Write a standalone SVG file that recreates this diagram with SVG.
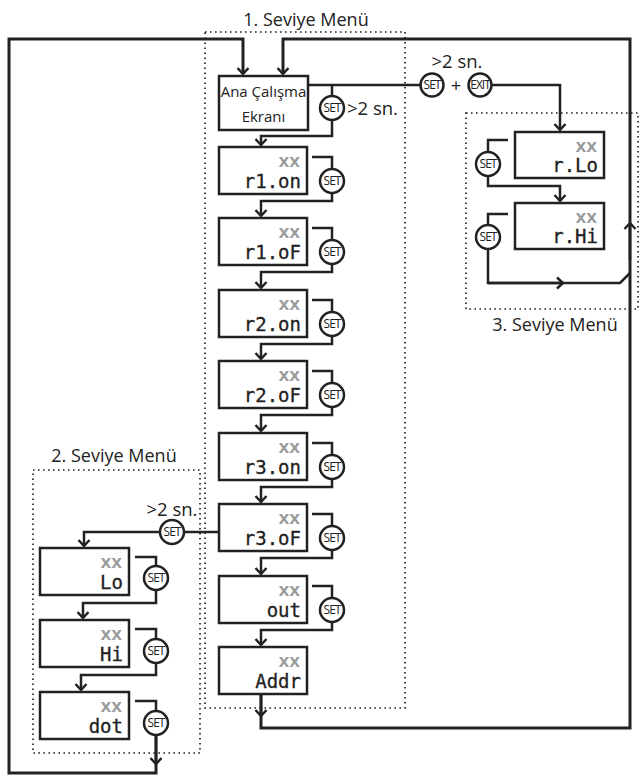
<svg xmlns="http://www.w3.org/2000/svg" width="641" height="777" viewBox="0 0 641 777">
<style>
.bg{fill:#fff}
.ln{fill:none;stroke:#222;stroke-width:2.5;stroke-linejoin:miter}
.lp{fill:none;stroke:#222;stroke-width:3}
.dot{fill:none;stroke:#222;stroke-width:1.7;stroke-dasharray:1.6 3.4}
.box{fill:#fff;stroke:#222;stroke-width:2.5}
.btn{fill:#fff;stroke:#222;stroke-width:2.5}
.bt{font-family:"Open Sans","DejaVu Sans",sans-serif;font-size:12px;fill:#222;text-anchor:middle;letter-spacing:-1px}
.lab{font-family:"Open Sans","DejaVu Sans",sans-serif;font-size:18.5px;fill:#222}
.ttl{font-family:"Open Sans","DejaVu Sans",sans-serif;font-size:18px;fill:#222;text-anchor:middle}
.xx{font-family:"DejaVu Sans",sans-serif;font-weight:bold;font-size:14px;fill:#9a9a9a;text-anchor:end}
.lcd{font-family:"DejaVu Sans Mono","Liberation Mono",monospace;font-size:19px;fill:#222;stroke:#222;stroke-width:0.3;text-anchor:end}
.ana{font-family:"Open Sans","DejaVu Sans",sans-serif;font-size:15px;fill:#222;text-anchor:middle}
</style>
<defs>
<marker id="ah" markerUnits="userSpaceOnUse" markerWidth="14" markerHeight="14" viewBox="0 0 14 14" refX="12" refY="7" orient="auto" overflow="visible">
<path d="M6,1.5 L12,7 L6,12.5" fill="none" stroke="#222" stroke-width="2.5"/>
</marker>
</defs>
<rect class="bg" x="0" y="0" width="641" height="777"/>

<g id="menu-frames">
<rect class="dot" x="205" y="32" width="200" height="676"/>
<rect class="dot" x="33" y="470" width="167" height="283"/>
<rect class="dot" x="466" y="113" width="172" height="196"/>
<text class="ttl" x="306" y="26">1. Seviye Menü</text>
<text class="ttl" x="114" y="462">2. Seviye Menü</text>
<text class="ttl" x="555" y="331">3. Seviye Menü</text>
</g>

<g id="connectors">
<path class="lp" d="M156,735 V773 H9 V39 H243 V74" marker-end="url(#ah)"/>
<path class="lp" d="M261,695 V728 H630 V39 H283 V74" marker-end="url(#ah)"/>
<path class="ln" d="M261,695 V716" marker-end="url(#ah)"/>
<path class="ln" d="M156,735 V764" marker-end="url(#ah)"/>
<path class="ln" d="M630,260 V223" marker-end="url(#ah)"/>
<path class="ln" d="M308,85 H420"/>
<path class="ln" d="M491,85 H560 V130" marker-end="url(#ah)"/>
<path class="ln" d="M332,85 V96"/>
<path class="ln" d="M332,120 V136 H261 V145" marker-end="url(#ah)"/>
<path class="ln" d="M312,157 H332 V169"/>
<path class="ln" d="M332,193 V201 H261 V216" marker-end="url(#ah)"/>
<path class="ln" d="M312,228 H332 V240"/>
<path class="ln" d="M332,264 V272 H261 V288" marker-end="url(#ah)"/>
<path class="ln" d="M312,300 H332 V312"/>
<path class="ln" d="M332,336 V344 H261 V359" marker-end="url(#ah)"/>
<path class="ln" d="M312,371 H332 V383"/>
<path class="ln" d="M332,407 V415 H261 V431" marker-end="url(#ah)"/>
<path class="ln" d="M312,443 H332 V455"/>
<path class="ln" d="M332,479 V487 H261 V502" marker-end="url(#ah)"/>
<path class="ln" d="M312,514 H332 V526"/>
<path class="ln" d="M332,550 V558 H261 V574" marker-end="url(#ah)"/>
<path class="ln" d="M312,586 H332 V598"/>
<path class="ln" d="M332,622 V630 H261 V645" marker-end="url(#ah)"/>
<path class="ln" d="M219,532 H184"/>
<path class="ln" d="M160,532 H84 V546" marker-end="url(#ah)"/>
<path class="ln" d="M135,557 H156 V566"/>
<path class="ln" d="M156,590 V603 H83 V618" marker-end="url(#ah)"/>
<path class="ln" d="M135,629 H156 V639"/>
<path class="ln" d="M156,663 V675 H81 V690" marker-end="url(#ah)"/>
<path class="ln" d="M135,701 H156 V711"/>
<path class="ln" d="M508,140 H488 V152"/>
<path class="ln" d="M488,176 V186 H560 V201" marker-end="url(#ah)"/>
<path class="ln" d="M508,214 H488 V225"/>
<path class="ln" d="M488,249 V283 H620 L630,273"/>
<path class="ln" d="M488,283 H563" marker-end="url(#ah)"/>
</g>

<g id="ana">
<rect class="box" x="219" y="76" width="89" height="54"/>
<text class="ana" x="263.5" y="97">Ana Çalışma</text>
<text class="ana" x="263.5" y="122">Ekranı</text>
</g>

<g id="ana-set">
<circle class="btn" cx="332" cy="108" r="12"/>
<text class="bt" x="332" y="112.2">SET</text>
<text class="lab" x="347" y="115">&gt;2 sn.</text>
</g>

<g id="l3-entry">
<circle class="btn" cx="432" cy="85" r="11.5"/>
<text class="bt" x="432" y="89.2">SET</text>
<text class="lab" x="456" y="92" text-anchor="middle" font-size="22">+</text>
<circle class="btn" cx="480" cy="85" r="11.5"/>
<text class="bt" x="480" y="89" font-size="10.5" letter-spacing="-1.3">EXIT</text>
<text class="lab" x="457" y="68" text-anchor="middle">&gt;2 sn.</text>
</g>

<g id="r1on"><rect class="box" x="219" y="147" width="88" height="47"/><text class="xx" x="300" y="167">XX</text><text class="lcd" x="301" y="188">r1.on</text>
<circle class="btn" cx="332" cy="181" r="12"/><text class="bt" x="332" y="185.2">SET</text></g>
<g id="r1oF"><rect class="box" x="219" y="218" width="88" height="47"/><text class="xx" x="300" y="238">XX</text><text class="lcd" x="301" y="259">r1.oF</text>
<circle class="btn" cx="332" cy="252" r="12"/><text class="bt" x="332" y="256.2">SET</text></g>
<g id="r2on"><rect class="box" x="219" y="290" width="88" height="47"/><text class="xx" x="300" y="310">XX</text><text class="lcd" x="301" y="331">r2.on</text>
<circle class="btn" cx="332" cy="324" r="12"/><text class="bt" x="332" y="328.2">SET</text></g>
<g id="r2oF"><rect class="box" x="219" y="361" width="88" height="47"/><text class="xx" x="300" y="381">XX</text><text class="lcd" x="301" y="402">r2.oF</text>
<circle class="btn" cx="332" cy="395" r="12"/><text class="bt" x="332" y="399.2">SET</text></g>
<g id="r3on"><rect class="box" x="219" y="433" width="88" height="47"/><text class="xx" x="300" y="453">XX</text><text class="lcd" x="301" y="474">r3.on</text>
<circle class="btn" cx="332" cy="467" r="12"/><text class="bt" x="332" y="471.2">SET</text></g>
<g id="r3oF"><rect class="box" x="219" y="504" width="88" height="47"/><text class="xx" x="300" y="524">XX</text><text class="lcd" x="301" y="545">r3.oF</text>
<circle class="btn" cx="332" cy="538" r="12"/><text class="bt" x="332" y="542.2">SET</text></g>
<g id="out"><rect class="box" x="219" y="576" width="88" height="47"/><text class="xx" x="300" y="596">XX</text><text class="lcd" x="301" y="617">out</text>
<circle class="btn" cx="332" cy="610" r="12"/><text class="bt" x="332" y="614.2">SET</text></g>
<g id="addr"><rect class="box" x="219" y="647" width="88" height="47"/><text class="xx" x="300" y="667">XX</text><text class="lcd" x="301" y="688">Addr</text></g>

<g id="l2-entry">
<circle class="btn" cx="172" cy="532" r="12"/><text class="bt" x="172" y="536.2">SET</text>
<text class="lab" x="172" y="516" text-anchor="middle">&gt;2 sn.</text>
</g>
<g id="lo"><rect class="box" x="40" y="548" width="89" height="47"/><text class="xx" x="122" y="568">XX</text><text class="lcd" x="123" y="589">Lo</text>
<circle class="btn" cx="156" cy="578" r="12"/><text class="bt" x="156" y="582.2">SET</text></g>
<g id="hi"><rect class="box" x="40" y="620" width="89" height="47"/><text class="xx" x="122" y="640">XX</text><text class="lcd" x="123" y="661">Hi</text>
<circle class="btn" cx="156" cy="651" r="12"/><text class="bt" x="156" y="655.2">SET</text></g>
<g id="dot"><rect class="box" x="40" y="692" width="89" height="47"/><text class="xx" x="122" y="712">XX</text><text class="lcd" x="123" y="733">dot</text>
<circle class="btn" cx="156" cy="723" r="12"/><text class="bt" x="156" y="727.2">SET</text></g>

<g id="rlo"><rect class="box" x="515" y="132" width="89" height="46"/><text class="xx" x="597" y="152">XX</text><text class="lcd" x="598" y="172">r.Lo</text>
<circle class="btn" cx="488" cy="164" r="12"/><text class="bt" x="488" y="168.2">SET</text></g>
<g id="rhi"><rect class="box" x="515" y="203" width="89" height="46"/><text class="xx" x="597" y="223">XX</text><text class="lcd" x="598" y="243">r.Hi</text>
<circle class="btn" cx="488" cy="237" r="12"/><text class="bt" x="488" y="241.2">SET</text></g>
</svg>
